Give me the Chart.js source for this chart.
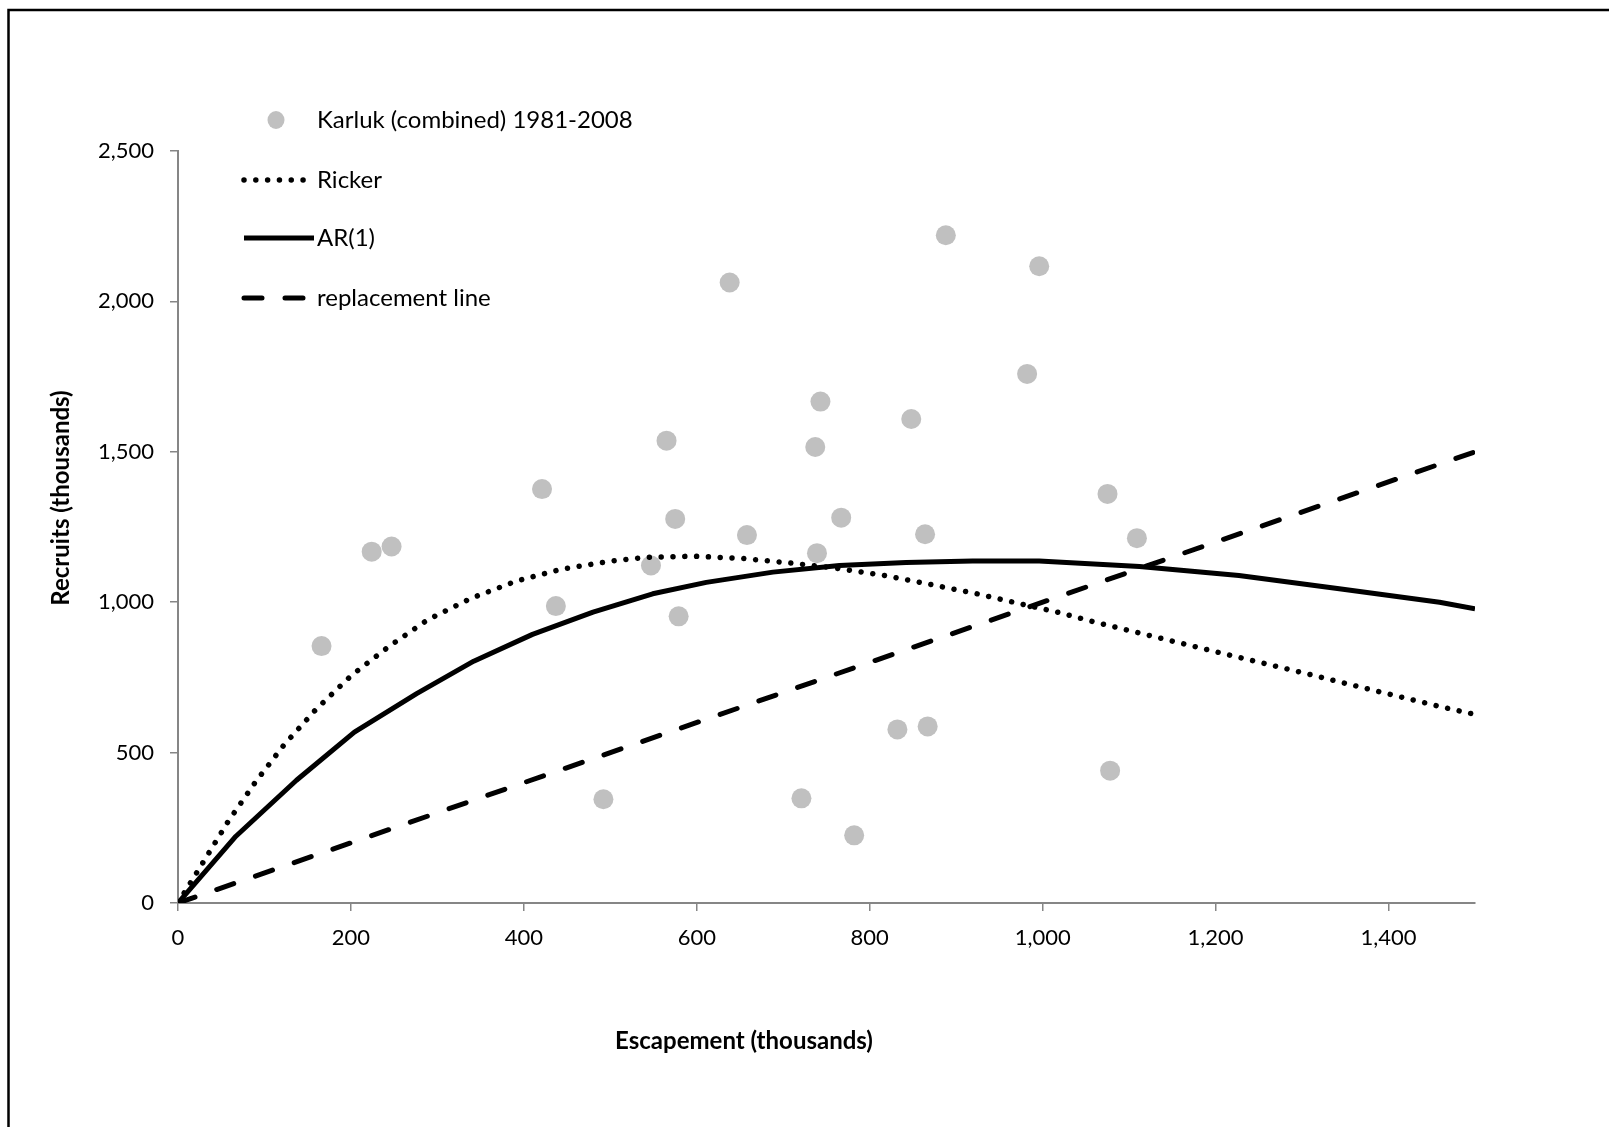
<!DOCTYPE html>
<html>
<head>
<meta charset="utf-8">
<script src="https://cdn.jsdelivr.net/npm/chart.js@4.4.1/dist/chart.umd.min.js"></script>
<style>
  html, body { margin: 0; padding: 0; background: #fff; }
  #wrap { width: 1609px; height: 1127px; position: relative; }
</style>
</head>
<body>
<div id="wrap"><canvas id="srChart"></canvas></div>
<script>
/* ================= DATA ================= */
const seriesNames = ["Karluk (combined) 1981-2008", "Ricker", "AR(1)", "replacement line"];

// observed brood years (thousands)
const escapement = [166, 224, 247, 421, 437, 492, 547, 565, 575, 579, 638, 658, 721, 737,
  739, 743, 767, 782, 832, 848, 864, 867, 888, 982, 996, 1075, 1078, 1109];
const recruits = [854, 1168, 1185, 1376, 987, 345, 1122, 1537, 1277, 953, 2063, 1223, 348, 1516,
  1163, 1667, 1281, 225, 577, 1609, 1226, 587, 2220, 1759, 2117, 1360, 440, 1213];

// Ricker curve
const rickerX = [0, 29, 58, 90, 123, 160, 200, 244, 289, 339, 391, 444, 499, 541, 595, 651,
  706, 761, 815, 870, 924, 978, 1017, 1060, 1141, 1222, 1303, 1384, 1464, 1500];
const rickerY = [0, 135, 271, 404, 527, 645, 755, 853, 942, 1013, 1070, 1110, 1136, 1149, 1153, 1146,
  1131, 1113, 1090, 1059, 1028, 992, 967, 934, 877, 820, 764, 706, 650, 627];

// AR(1) curve
const arX = [0, 67, 137, 204, 276, 342, 410, 480, 549, 611, 688, 765, 842, 919, 996, 1112, 1227, 1343, 1459, 1500];
const arY = [0, 222, 408, 568, 696, 804, 893, 967, 1028, 1066, 1100, 1122, 1132, 1137, 1137, 1119, 1089, 1045, 1000, 978];

// replacement line R = S
const replX = [0, 1500];
const replY = [0, 1500];

// axes
const xMin = 0, xMax = 1500, xStep = 200;
const yMin = 0, yMax = 2500, yStep = 500;
const xTitle = "Escapement (thousands)";
const yTitle = "Recruits (thousands)";

/* ================= HELPERS ================= */
function pairs(xs, ys) {
  return xs.map((x, i) => ({ x: x, y: ys[i] }));
}
const fmt = (v) => Number(v).toLocaleString("en-US");

const FONT = "Lato, 'Open Sans', sans-serif";
const AXIS_GRAY = "#868686";

/* ================= PLUGINS ================= */
// frame round the whole picture (only left/top edges fall inside)
const framePlugin = {
  id: "frame",
  afterDraw(chart) {
    const c = chart.ctx;
    c.save();
    c.strokeStyle = "#000";
    c.lineWidth = 2.5;
    c.strokeRect(8.5, 10, 1610, 1130);
    c.restore();
  }
};

// axis titles placed where the original puts them
const titlesPlugin = {
  id: "axisTitles",
  afterDraw(chart) {
    const c = chart.ctx;
    c.save();
    c.fillStyle = "#000";
    c.font = "bold 24px " + FONT;
    c.textAlign = "center";
    c.textBaseline = "middle";
    c.fillText(xTitle, 744, 1041);
    c.translate(61, 498);
    c.rotate(-Math.PI / 2);
    c.fillText(yTitle, 0, 0);
    c.restore();
  }
};

// legend inside the top-left corner
const legendPlugin = {
  id: "innerLegend",
  afterDraw(chart) {
    const c = chart.ctx;
    const ds = chart.data.datasets;
    const rows = [120, 180, 238, 298];
    const order = [3, 0, 1, 2]; // dataset index for each legend row
    c.save();
    c.font = "24px " + FONT;
    c.textBaseline = "middle";
    c.fillStyle = "#000";
    rows.forEach((y, i) => {
      const d = ds[order[i]];
      if (i === 0) {
        c.beginPath();
        c.fillStyle = d.backgroundColor;
        c.ellipse(276, y, 8.5, 9, 0, 0, Math.PI * 2);
        c.fill();
      } else {
        c.beginPath();
        c.strokeStyle = d.borderColor;
        c.lineWidth = d.borderWidth;
        c.lineCap = d.borderCapStyle || "butt";
        c.setLineDash(d.borderDash || []);
        c.moveTo(244, y);
        c.lineTo(i === 2 ? 314 : 308, y);
        c.stroke();
        c.setLineDash([]);
      }
      c.fillStyle = "#000";
      c.fillText(d.label, 317, y);
    });
    c.restore();
  }
};

/* ================= CHART ================= */
const ctx = document.getElementById("srChart");

const chart = new Chart(ctx, {
  data: {
    datasets: [
      {
        type: "line",
        label: seriesNames[1],
        data: pairs(rickerX, rickerY),
        borderColor: "#000",
        borderWidth: 5.5,
        borderDash: [0.01, 11.8],
        borderCapStyle: "round",
        pointRadius: 0,
        tension: 0,
        order: 1
      },
      {
        type: "line",
        label: seriesNames[2],
        data: pairs(arX, arY),
        borderColor: "#000",
        borderWidth: 5,
        borderJoinStyle: "round",
        pointRadius: 0,
        tension: 0,
        order: 1
      },
      {
        type: "line",
        label: seriesNames[3],
        data: pairs(replX, replY),
        borderColor: "#000",
        borderWidth: 5,
        borderDash: [18, 23],
        borderCapStyle: "round",
        pointRadius: 0,
        order: 1
      },
      {
        type: "scatter",
        label: seriesNames[0],
        data: pairs(escapement, recruits),
        backgroundColor: "#c0c0c0",
        borderWidth: 0,
        pointRadius: 10,
        pointHoverRadius: 10,
        order: 5
      }
    ]
  },
  options: {
    responsive: true,
    maintainAspectRatio: false,
    animation: false,
    events: [],
    layout: {
      padding: { left: 0, top: 151, right: 134, bottom: 0 }
    },
    plugins: {
      legend: { display: false },
      tooltip: { enabled: false }
    },
    scales: {
      x: {
        type: "linear",
        min: xMin,
        max: xMax,
        afterFit: (s) => { s.height = 224; },
        border: { display: true, color: AXIS_GRAY, width: 2 },
        grid: { drawOnChartArea: false, drawTicks: true, tickLength: 8, color: AXIS_GRAY, lineWidth: 1.5 },
        ticks: {
          stepSize: xStep,
          includeBounds: false,
          maxRotation: 0,
          padding: 14,
          color: "#000",
          font: { family: FONT, size: 22 },
          callback: fmt
        }
      },
      y: {
        type: "linear",
        min: yMin,
        max: yMax,
        afterFit: (s) => { s.width = 178; },
        border: { display: true, color: AXIS_GRAY, width: 2 },
        grid: { drawOnChartArea: false, drawTicks: true, tickLength: 8, color: AXIS_GRAY, lineWidth: 1.5 },
        ticks: {
          stepSize: yStep,
          padding: 16,
          color: "#000",
          font: { family: FONT, size: 22 },
          callback: fmt
        }
      }
    }
  },
  plugins: [framePlugin, titlesPlugin, legendPlugin]
});
</script>
</body>
</html>
